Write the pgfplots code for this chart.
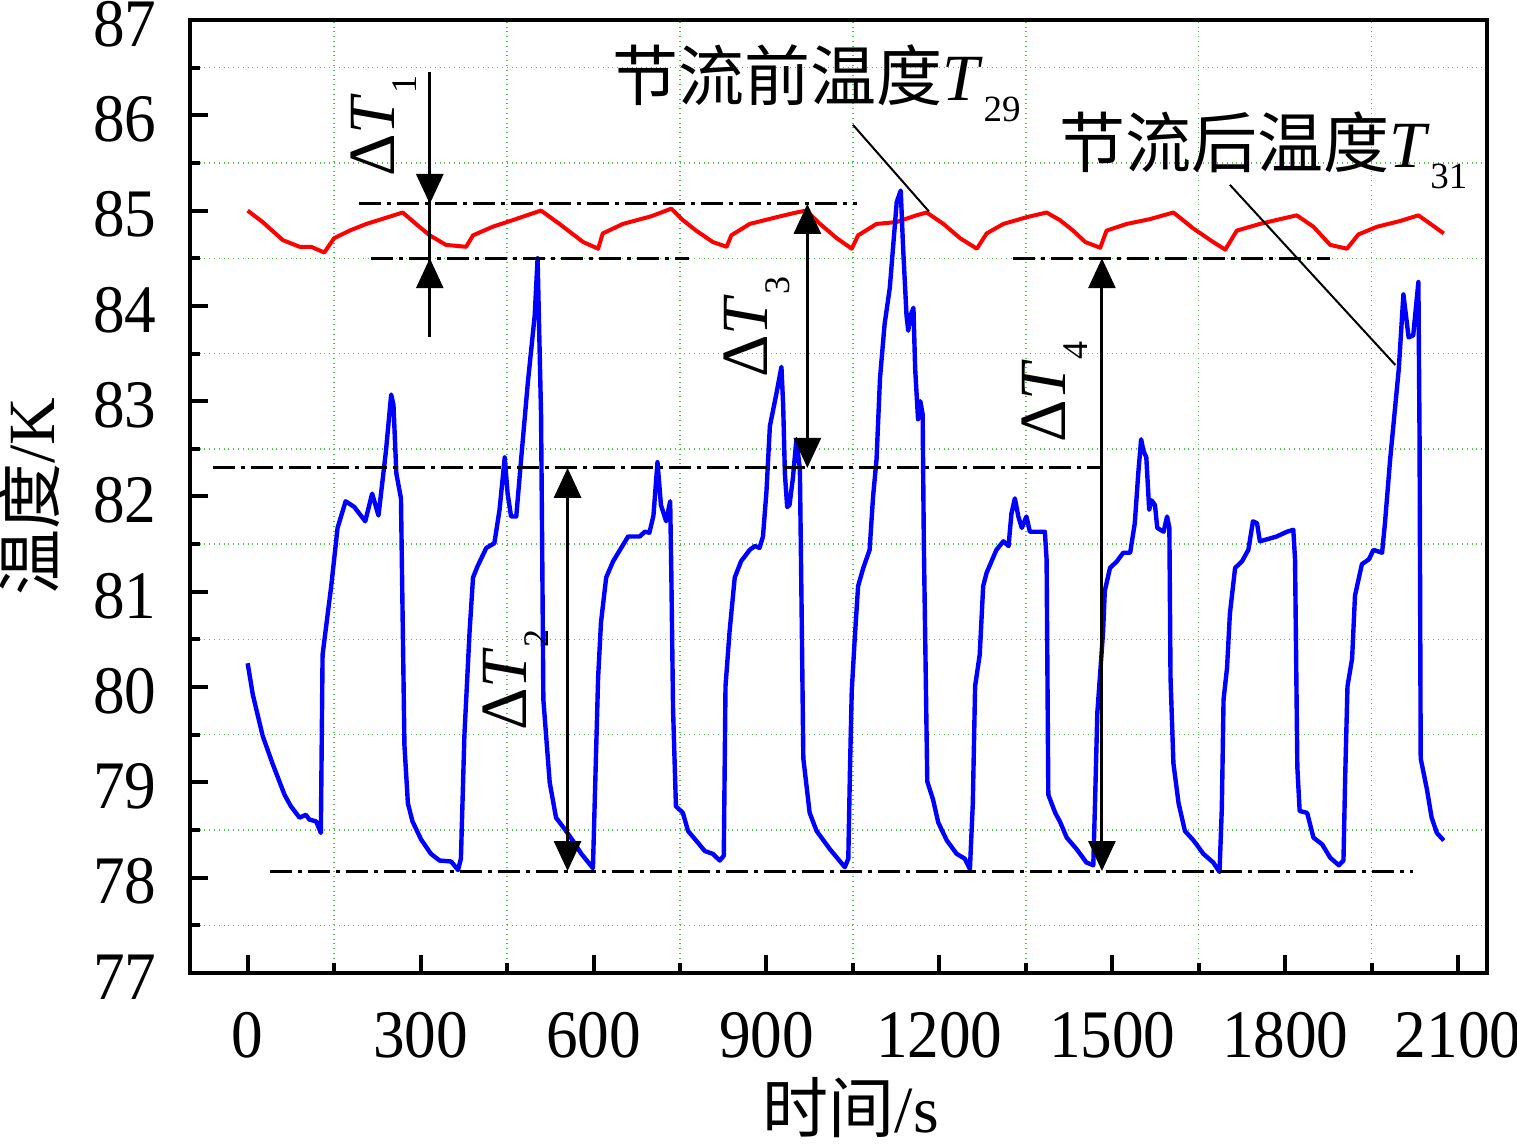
\documentclass[border=0pt]{standalone}
\usepackage{fontspec}
\setmainfont{Liberation Serif}
\newfontfamily\cjk{Noto Sans CJK SC}
\newfontfamily\numfont[FakeStretch=0.93]{Liberation Serif}
\usepackage{pgfplots}
\pgfplotsset{compat=1.18}
\usetikzlibrary{arrows.meta}
\definecolor{gridgreen}{RGB}{70,200,70}
\begin{document}
\begin{tikzpicture}
\path[use as bounding box] (-95pt,-85.5pt) rectangle (663.5pt,486.5pt);
\begin{axis}[
  at={(0,0)}, anchor=south west,
  scale only axis, width=648.5pt, height=476.5pt,
  xmin=-100, xmax=2150, ymin=77, ymax=87,
  xtick={0,300,...,2100}, ytick={77,78,...,87},
  minor x tick num=1, minor y tick num=1,
  tick align=inside, xtick pos=left, ytick pos=left,
  major tick length=9pt, minor tick length=5pt,
  every tick/.append style={black, line width=2pt},
  axis line style={line width=2pt},
  grid=minor,
  minor grid style={gridgreen, dotted, line width=0.7pt},
  major grid style={draw=none},
  clip=false,
  /pgf/number format/assume math mode=true,
  /pgf/number format/1000 sep={},
  ticklabel style={font=\numfont\fontsize{34}{34}\selectfont},
  xticklabel style={inner sep=0pt, anchor=north, yshift=-19.5pt},
  yticklabel style={inner sep=0pt, anchor=east, xshift=-16.5pt, yshift=-2pt},
  xlabel={{\cjk 时间}/s},
  xlabel style={font=\fontsize{33}{33}\selectfont, at={(axis description cs:0.5096,-0.1679)}, anchor=base, inner sep=0pt},
  ylabel={{\cjk 温度}/K},
  ylabel style={font=\fontsize{33}{33}\selectfont, at={(axis description cs:-0.1041,0.5)}, anchor=base, inner sep=0pt},
]
% T29 (before throttling)
\addplot[red, line width=2pt, line join=round] coordinates {
(0,85.0) (26,84.88) (61,84.69) (90,84.62) (110,84.62) (133,84.56) (150,84.71) (177,84.79) (206,84.86) (243,84.93) (269,84.98)
(292,84.86) (316,84.74) (344,84.64) (379,84.62) (391,84.74) (425,84.83) (460,84.9) (489,84.96) (509,85.0)
(541,84.86) (582,84.67) (608,84.6) (616,84.76) (651,84.86) (700,84.94) (735,85.02)
(755,84.9) (778,84.79) (807,84.67) (831,84.62) (839,84.74) (871,84.86) (917,84.93) (952,84.98) (969,85.0)
(993,84.86) (1022,84.71) (1048,84.6) (1059,84.74) (1091,84.86) (1126,84.88) (1160,84.95) (1178,84.98)
(1207,84.86) (1236,84.71) (1265,84.6) (1282,84.76) (1311,84.86) (1351,84.93) (1386,84.98)
(1409,84.9) (1432,84.79) (1453,84.67) (1479,84.61) (1490,84.79) (1525,84.86) (1565,84.91) (1606,84.98)
(1641,84.81) (1675,84.67) (1696,84.59) (1716,84.79) (1756,84.86) (1791,84.91) (1820,84.95)
(1849,84.83) (1878,84.64) (1907,84.6) (1927,84.75) (1959,84.83) (1999,84.89) (2031,84.95) (2052,84.86) (2075,84.76)
};
% T31 (after throttling)
\addplot[blue, line width=2.2pt, line join=round] coordinates {
(0,80.25) (9,79.92) (26,79.49) (43,79.2) (64,78.87) (75,78.75) (90,78.63) (101,78.66) (107,78.61) (119,78.59) (127,78.47)
(130,80.34) (135,80.58) (145,81.06) (156,81.67) (170,81.95) (185,81.89) (204,81.74) (216,82.03) (227,81.8) (240,82.48)
(249,83.07) (253,82.96) (258,82.24) (266,81.98) (272,79.39) (278,78.78) (286,78.59) (301,78.4) (318,78.25) (333,78.18)
(353,78.17) (365,78.08) (370,78.2) (376,79.49) (385,80.58) (391,81.15) (399,81.27) (414,81.46) (428,81.51) (437,81.86)
(446,82.41) (451,82.03) (457,81.79) (466,81.79) (475,82.43) (486,83.19) (498,83.9) (503,84.5) (509,82.86) (511,81.44)
(513,79.87) (524,79.0) (535,78.63) (550,78.51) (564,78.39) (579,78.25) (599,78.1) (608,80.1) (613,80.68) (622,81.15)
(634,81.32) (660,81.58) (680,81.58) (689,81.63) (697,81.62) (704,81.8) (711,82.36) (717,81.91) (726,81.74) (733,81.95)
(735,81.2) (738,79.77) (743,78.75) (755,78.68) (764,78.49) (778,78.39) (793,78.28) (807,78.25) (819,78.18) (826,78.23)
(829,80.01) (836,80.58) (845,81.15) (856,81.32) (871,81.44) (880,81.48) (888,81.46) (894,81.58) (900,82.05) (906,82.74)
(917,83.07) (926,83.36) (929,82.96) (932,82.24) (936,81.89) (940,81.91) (946,82.2) (952,82.6) (958,82.29) (961,80.82)
(964,79.25) (975,78.68) (987,78.49) (1010,78.3) (1036,78.11) (1042,78.2) (1045,79.16) (1048,79.96) (1053,80.49)
(1059,81.06) (1068,81.25) (1079,81.44) (1085,82.0) (1091,82.39) (1097,83.24) (1105,83.81) (1114,84.19) (1126,85.09)
(1133,85.21) (1137,84.62) (1143,83.9) (1146,83.74) (1150,83.9) (1155,83.98) (1158,83.34) (1163,82.81) (1167,83.0)
(1171,82.86) (1173,81.53) (1179,79.01) (1189,78.82) (1198,78.58) (1213,78.39) (1230,78.25) (1244,78.2) (1253,78.09)
(1258,78.78) (1262,80.01) (1270,80.34) (1276,81.06) (1282,81.2) (1299,81.44) (1311,81.53) (1320,81.48) (1325,81.82)
(1331,81.98) (1337,81.79) (1343,81.67) (1351,81.79) (1357,81.63) (1383,81.63) (1386,81.34) (1389,78.87) (1401,78.68)
(1409,78.59) (1421,78.42) (1438,78.3) (1455,78.16) (1467,78.13) (1470,78.78) (1474,79.73) (1479,80.15) (1484,80.58)
(1487,81.01) (1496,81.25) (1508,81.32) (1519,81.41) (1531,81.41) (1539,81.72) (1545,82.24) (1550,82.6) (1554,82.48)
(1559,82.41) (1564,81.86) (1568,81.96) (1574,81.91) (1578,81.67) (1589,81.63) (1595,81.79) (1599,81.67) (1601,80.1)
(1606,79.2) (1615,78.78) (1626,78.49) (1641,78.39) (1658,78.25) (1675,78.16) (1686,78.06) (1690,78.73) (1693,79.87)
(1699,80.2) (1704,80.77) (1713,81.25) (1725,81.32) (1736,81.44) (1744,81.74) (1751,81.72) (1756,81.53) (1768,81.55)
(1785,81.58) (1803,81.63) (1814,81.65) (1817,81.34) (1821,79.16) (1825,78.7) (1838,78.68) (1849,78.42) (1864,78.35)
(1878,78.21) (1893,78.13) (1901,78.18) (1904,79.06) (1908,80.01) (1916,80.3) (1921,80.96) (1933,81.29) (1945,81.34)
(1953,81.44) (1968,81.41) (1973,81.72) (1982,82.39) (1991,82.96) (1997,83.34) (2005,84.12) (2014,83.67) (2022,83.69)
(2031,84.25) (2033,82.62) (2035,79.25) (2046,78.92) (2054,78.63) (2063,78.47) (2075,78.39)
};
% dash-dot reference lines
\tikzset{dd/.style={black, line width=1.5pt, dash pattern=on 11pt off 3pt on 2pt off 3pt}}
\draw[dd] (axis cs:194,85.07) -- (axis cs:1057,85.07);
\draw[dd] (axis cs:214,84.5) -- (axis cs:766,84.5);
\draw[dd] (axis cs:1328,84.5) -- (axis cs:1878,84.5);
\draw[dd] (axis cs:-60,82.3) -- (axis cs:1482,82.3);
\draw[dd] (axis cs:38,78.07) -- (axis cs:2021,78.07);
% arrows
\tikzset{arr/.style={black, line width=1.5pt}}
\draw[arr] (axis cs:316,86.45) -- (axis cs:316,83.67);
\draw[arr, -{Triangle[length=15pt,width=13.5pt]}] (axis cs:316,86.0) -- (axis cs:316,85.07);
\draw[arr, -{Triangle[length=15pt,width=13.5pt]}] (axis cs:316,83.9) -- (axis cs:316,84.5);
\draw[arr, {Triangle[length=15pt,width=13.5pt]}-{Triangle[length=15pt,width=13.5pt]}] (axis cs:555,82.3) -- (axis cs:555,78.07);
\draw[arr, {Triangle[length=15pt,width=13.5pt]}-{Triangle[length=15pt,width=13.5pt]}] (axis cs:971,85.07) -- (axis cs:971,82.3);
\draw[arr, {Triangle[length=15pt,width=13.5pt]}-{Triangle[length=15pt,width=13.5pt]}] (axis cs:1482,84.5) -- (axis cs:1482,78.07);
% Delta T labels
\tikzset{dlab/.style={rotate=90, anchor=base west, inner sep=0pt, font=\fontsize{33}{33}\selectfont}}
\node[dlab] at (axis cs:254.7,85.353) {Δ\textit{T}\raisebox{-11pt}{\fontsize{18}{18}\selectfont 1}};
\node[dlab] at (axis cs:483.9,79.54) {Δ\textit{T}\raisebox{-11pt}{\fontsize{18}{18}\selectfont 2}};
\node[dlab] at (axis cs:902,83.24) {Δ\textit{T}\raisebox{-11pt}{\fontsize{18}{18}\selectfont 3}};
\node[dlab] at (axis cs:1418,82.56) {Δ\textit{T}\raisebox{-11pt}{\fontsize{18}{18}\selectfont 4}};
% curve labels
\node[anchor=base west, inner sep=0pt, font=\fontsize{33}{33}\selectfont] at (axis cs:633,86.15)
  {{\cjk 节流前温度}\textit{T}\raisebox{-10.5pt}{\fontsize{18.5}{18.5}\selectfont 29}};
\node[anchor=base west, inner sep=0pt, font=\fontsize{33}{33}\selectfont] at (axis cs:1408,85.447)
  {{\cjk 节流后温度}\textit{T}\raisebox{-10.5pt}{\fontsize{18.5}{18.5}\selectfont 31}};
\draw[black, line width=1pt] (axis cs:1050,85.90) -- (axis cs:1182,84.99);
\draw[black, line width=1pt] (axis cs:1704,85.27) -- (axis cs:1991,83.38);
\end{axis}
\end{tikzpicture}
\end{document}
